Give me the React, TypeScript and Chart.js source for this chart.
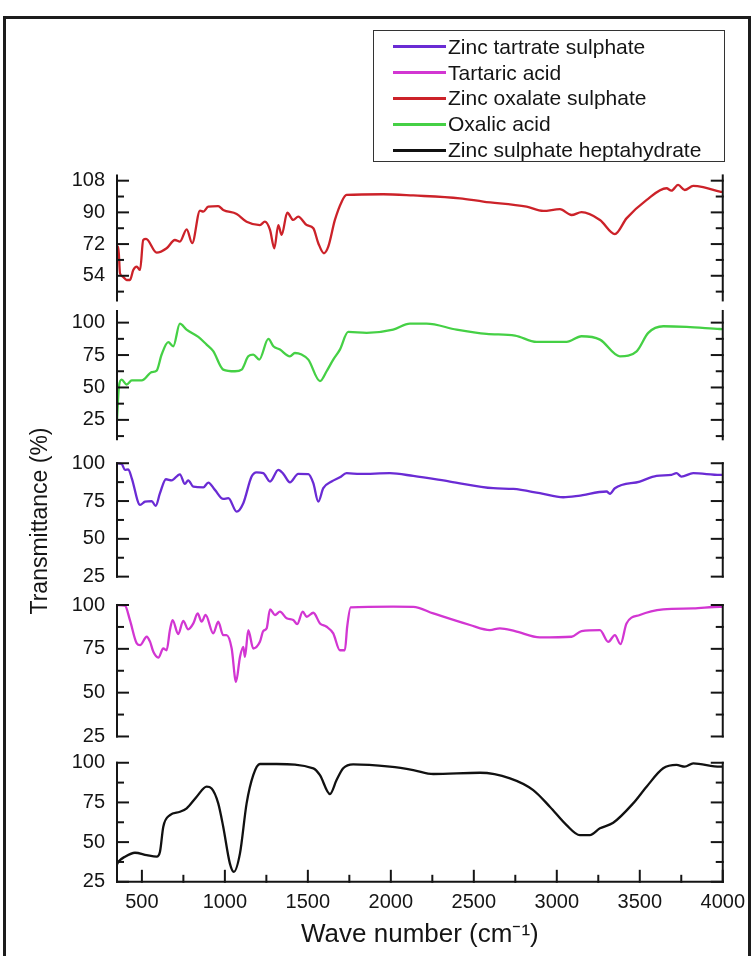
import React, { useEffect, useRef } from 'react';
import { Chart, registerables } from 'chart.js';

Chart.register(...registerables);

const FONT = "'Liberation Sans', Arial, Helvetica, sans-serif";

// ---------------- data (wave number in cm^-1, transmittance in %) ----------------
const zincOxalateWave = [350, 358, 368, 385, 408, 428, 448, 469, 489, 508, 525, 589, 649, 699, 729, 770, 803, 850, 870, 900, 960, 990, 1071, 1131, 1211, 1241, 1272, 1298, 1322, 1342, 1376, 1412, 1442, 1493, 1533, 1563, 1597, 1623, 1663, 1704, 1733, 1954, 2135, 2416, 2557, 2818, 2918, 3019, 3089, 3149, 3260, 3350, 3420, 3540, 3661, 3691, 3731, 3771, 3822, 3882, 3983, 4000];
const zincOxalateT = [69.6, 70.5, 55.4, 53.5, 51.6, 51.6, 57.3, 59.2, 57.3, 74.3, 74.9, 67.1, 69.6, 74.3, 73.4, 80.4, 72.5, 91, 90.4, 93.2, 93.6, 91.4, 89.1, 84.7, 82.8, 84.7, 80, 69.6, 82.8, 77.2, 89.8, 85.7, 87.6, 82.8, 81, 72.5, 66.8, 70.5, 85.7, 96.1, 99.9, 100.3, 99.6, 98, 96.1, 93.2, 90.8, 91.8, 88.5, 90.1, 85.7, 77.7, 86.6, 97, 103.7, 102.3, 105.6, 102.7, 105, 104.3, 101.8, 101.5];

const oxalicWave = [350, 355, 362, 378, 408, 439, 499, 559, 589, 619, 659, 689, 729, 769, 840, 890, 930, 990, 1061, 1101, 1141, 1171, 1207, 1262, 1292, 1332, 1392, 1422, 1462, 1503, 1573, 1613, 1653, 1693, 1743, 1854, 2014, 2115, 2215, 2396, 2577, 2748, 2878, 3059, 3149, 3260, 3380, 3481, 3551, 3642, 3782, 3983, 4000];
const oxalicT = [25, 38, 51, 56, 52.3, 55.4, 55.4, 61.8, 63, 75.4, 84.9, 81.8, 99.2, 94.6, 89, 83.1, 78, 63.8, 62.5, 63.8, 74, 75.4, 71.5, 87.4, 81.8, 79.2, 74, 76.6, 75.4, 71.5, 54.9, 62.5, 71.5, 79.2, 92.8, 92.1, 94.6, 99.2, 99.2, 94.6, 91.3, 90, 85.1, 85.1, 89.5, 86.9, 74, 77.9, 92.1, 97.2, 96.7, 95.1, 95];

const zincTartrateWave = [350, 378, 398, 418, 439, 489, 519, 559, 583, 609, 645, 679, 729, 759, 779, 810, 870, 900, 940, 990, 1021, 1071, 1111, 1161, 1191, 1231, 1272, 1322, 1352, 1392, 1442, 1503, 1533, 1563, 1593, 1643, 1693, 1733, 1814, 1994, 2135, 2356, 2617, 2738, 2898, 3039, 3129, 3300, 3320, 3350, 3500, 3601, 3691, 3721, 3751, 3822, 3983, 4000];
const zincTartrateT = [100, 99.5, 95.6, 96, 90, 72.4, 74.6, 75, 71.8, 80.2, 89.4, 88.7, 92.7, 86.3, 88.7, 84.5, 84, 87.2, 82.4, 76.4, 76.9, 68, 73.6, 91.2, 94, 93.5, 87.9, 95.6, 93, 87.4, 93, 92.8, 86.8, 74.6, 83.5, 87.9, 90.7, 93.4, 93, 93.4, 91.6, 87.9, 83.5, 83, 80.2, 77.5, 78.4, 81.3, 79.8, 83.5, 87.9, 91.6, 92.3, 93.4, 91.2, 93.4, 92.3, 92.3];

const tartaricWave = [350, 398, 428, 469, 489, 529, 549, 569, 599, 629, 649, 669, 685, 719, 749, 779, 810, 836, 860, 884, 930, 960, 990, 1010, 1041, 1067, 1091, 1111, 1121, 1141, 1171, 1211, 1231, 1252, 1272, 1302, 1332, 1372, 1412, 1436, 1469, 1493, 1533, 1573, 1613, 1653, 1693, 1723, 1737, 1758, 2014, 2135, 2256, 2477, 2597, 2657, 2748, 2898, 3089, 3149, 3260, 3310, 3350, 3384, 3420, 3500, 3641, 3822, 3983, 4000];
const tartaricT = [100, 99.6, 91.4, 78.1, 77.1, 81.9, 79.1, 73.3, 70, 75.2, 74.2, 85.7, 91.4, 83.4, 91, 86.1, 89.5, 95.2, 90.5, 94.3, 83.8, 90.5, 82.8, 82.8, 75.2, 56.1, 70.4, 76.1, 70.4, 85.7, 75.2, 79, 85.1, 86.8, 97.5, 94.3, 96.2, 92.4, 91.4, 89.1, 96.2, 93.3, 95.6, 89.5, 87.6, 83.8, 74.2, 74.2, 87.6, 98.7, 99.1, 99, 95.2, 88.6, 85.7, 86.7, 85.1, 81.5, 81.9, 85.1, 85.7, 79, 82.8, 77.7, 89.5, 94.3, 97.5, 98.1, 99, 99];

const zincSulphateWave = [350, 358, 398, 458, 529, 589, 609, 629, 669, 729, 770, 830, 890, 920, 960, 990, 1030, 1054, 1091, 1131, 1171, 1211, 1311, 1533, 1573, 1633, 1673, 1713, 1773, 1994, 2135, 2256, 2537, 2718, 2858, 2958, 3059, 3139, 3199, 3260, 3340, 3460, 3541, 3641, 3721, 3771, 3822, 3983, 4000];
const zincSulphateT = [36, 37.6, 40.8, 43.3, 41.8, 40.8, 43.9, 59.7, 67, 69.1, 71.3, 78.6, 84.9, 83.8, 74.4, 59.7, 36.6, 31.3, 42.9, 74.4, 92.2, 99.2, 99.2, 96.5, 92.2, 80.3, 89.1, 96.5, 99, 97.5, 95.4, 92.9, 93.7, 90.2, 82.8, 72.3, 60.7, 54.4, 54.4, 58.7, 62.2, 74.4, 84.9, 96.5, 98.6, 97.5, 99.6, 97.5, 97.5];

// ---------------- tick values ----------------
const xMajorTicks = [500, 1000, 1500, 2000, 2500, 3000, 3500, 4000];
const xMinorTicks = [750, 1250, 1750, 2250, 2750, 3250, 3750];
const oxalateMajorTicks = [54, 72, 90, 108];
const oxalateMinorTicks = [45, 63, 81, 99];
const oxalicMajorTicks = [25, 50, 75, 100];
const oxalicMinorTicks = [12.5, 37.5, 62.5, 87.5];
const percentMajorTicks = [25, 50, 75, 100];
const percentMinorTicks = [37.5, 62.5, 87.5];

// legend order as in the reference
const legendLabels = ['Zinc tartrate sulphate', 'Tartaric acid', 'Zinc oxalate sulphate', 'Oxalic acid', 'Zinc sulphate heptahydrate'];
const legendColors = ['#6a2bd4', '#d236d2', '#cc2229', '#45d045', '#111111'];

// panel layout (top to bottom)
const panels = [
  { id: 'yZincOxalate', label: 'Zinc oxalate sulphate', color: '#cc2229', wave: zincOxalateWave, values: zincOxalateT, min: 37.4, max: 111, lo: 40, hi: 111, stackWeight: 129.6, order: 5, major: oxalateMajorTicks, minor: oxalateMinorTicks },
  { id: 'yOxalic', label: 'Oxalic acid', color: '#45d045', wave: oxalicWave, values: oxalicT, min: 1, max: 113.6, lo: 10, hi: 109, stackWeight: 146, order: 4, major: oxalicMajorTicks, minor: oxalicMinorTicks },
  { id: 'yZincTartrate', label: 'Zinc tartrate sulphate', color: '#6a2bd4', wave: zincTartrateWave, values: zincTartrateT, min: 15.5, max: 108.1, lo: 25, hi: 100, stackWeight: 140, order: 3, major: percentMajorTicks, minor: percentMinorTicks, title: 'Transmittance (%)' },
  { id: 'yTartaric', label: 'Tartaric acid', color: '#d236d2', wave: tartaricWave, values: tartaricT, min: 17.8, max: 108, lo: 25, hi: 100, stackWeight: 158.1, order: 2, major: percentMajorTicks, minor: percentMinorTicks },
  { id: 'yZincSulphate', label: 'Zinc sulphate heptahydrate', color: '#111111', wave: zincSulphateWave, values: zincSulphateT, min: 25, max: 108.6, lo: 25, hi: 100, stackWeight: 132.7, order: 1, major: percentMajorTicks, minor: percentMinorTicks },
];

const MAJOR_LEN = 11;
const MINOR_LEN = 6;

const panelAxesPlugin = {
  id: 'panelAxes',
  afterDraw(chart: any) {
    const { ctx, chartArea } = chart;
    const { left, right, bottom } = chartArea;
    const seg = (x1: number, y1: number, x2: number, y2: number) => {
      ctx.beginPath();
      ctx.moveTo(x1, y1);
      ctx.lineTo(x2, y2);
      ctx.stroke();
    };
    ctx.save();
    ctx.strokeStyle = '#151515';
    ctx.lineWidth = 2;
    ctx.lineCap = 'square';
    panels.forEach((p) => {
      const s = chart.scales[p.id];
      const yTop = s.getPixelForValue(p.hi);
      const yBot = s.getPixelForValue(p.lo);
      seg(left, yTop, left, yBot);
      seg(right, yTop, right, yBot);
      p.major.forEach((v: number) => {
        const y = s.getPixelForValue(v);
        seg(left, y, left + MAJOR_LEN, y);
        seg(right - MAJOR_LEN, y, right, y);
      });
      p.minor.forEach((v: number) => {
        const y = s.getPixelForValue(v);
        seg(left, y, left + MINOR_LEN, y);
        seg(right - MINOR_LEN, y, right, y);
      });
    });
    const xs = chart.scales.x;
    seg(left, bottom, right, bottom);
    xMajorTicks.forEach((v) => {
      const x = xs.getPixelForValue(v);
      seg(x, bottom, x, bottom - MAJOR_LEN);
    });
    xMinorTicks.forEach((v) => {
      const x = xs.getPixelForValue(v);
      seg(x, bottom, x, bottom - MINOR_LEN);
    });
    ctx.restore();
  },
};

export default function App() {
  const canvasRef = useRef<HTMLCanvasElement | null>(null);

  useEffect(() => {
    if (!canvasRef.current) return;

    const datasets = panels.map((p) => ({
      label: p.label,
      data: p.wave.map((w, i) => ({ x: w, y: p.values[i] })),
      yAxisID: p.id,
      borderColor: p.color,
      backgroundColor: p.color,
      borderWidth: 2.3,
      pointRadius: 0,
      cubicInterpolationMode: 'monotone',
      borderJoinStyle: 'round',
      fill: false,
    }));

    const scales: any = {
      x: {
        type: 'linear',
        position: 'bottom',
        min: 350,
        max: 4000,
        grid: { display: false, drawTicks: false },
        border: { display: false },
        afterBuildTicks: (s: any) => {
          s.ticks = xMajorTicks.map((v) => ({ value: v }));
        },
        afterFit: (s: any) => {
          s.height = 74.2;
        },
        ticks: {
          autoSkip: false,
          maxRotation: 0,
          padding: 9,
          color: '#151515',
          font: { family: FONT, size: 20 },
          callback: (v: any) => String(v),
        },
        title: {
          display: true,
          text: 'Wave number (cm\u207B\u00B9)',
          color: '#151515',
          font: { family: FONT, size: 26 },
          padding: { top: 0, bottom: 6 },
        },
      },
    };

    panels.forEach((p) => {
      scales[p.id] = {
        type: 'linear',
        position: 'left',
        stack: 'panels',
        stackWeight: p.stackWeight,
        weight: p.order,
        min: p.min,
        max: p.max,
        grid: { display: false, drawTicks: false },
        border: { display: false },
        afterBuildTicks: (s: any) => {
          s.ticks = p.major.map((v: number) => ({ value: v }));
        },
        afterFit: (s: any) => {
          s.width = 117;
        },
        ticks: {
          autoSkip: false,
          padding: 12,
          color: '#151515',
          font: { family: FONT, size: 20 },
          callback: (v: any) => String(v),
        },
        title: p.title
          ? {
              display: true,
              text: p.title,
              color: '#151515',
              font: { family: FONT, size: 23 },
              padding: { top: 27, bottom: 0 },
            }
          : { display: false },
      };
    });

    const chart = new Chart(canvasRef.current, {
      type: 'line',
      data: { datasets },
      options: {
        responsive: false,
        animation: false,
        parsing: true,
        layout: { padding: { top: 175.4, left: 0, right: 31, bottom: 0 } },
        plugins: { legend: { display: false }, tooltip: { enabled: false } },
        scales,
      },
      plugins: [panelAxesPlugin],
    } as any);

    return () => chart.destroy();
  }, []);

  return (
    <div style={{ position: 'absolute', left: 0, top: 0, width: 754, height: 956, overflow: 'hidden', background: '#fff' }}>
      <div
        style={{
          position: 'absolute',
          left: 3,
          top: 16,
          width: 748,
          height: 960,
          border: '3px solid #1c1c1c',
          boxSizing: 'border-box',
        }}
      />
      <canvas ref={canvasRef} width={754} height={956} style={{ position: 'absolute', left: 0, top: 0 }} />
      <div
        style={{
          position: 'absolute',
          left: 373,
          top: 30,
          width: 352,
          height: 132,
          border: '1px solid #333',
          boxSizing: 'border-box',
          background: '#fff',
          fontFamily: FONT,
          fontSize: 21,
          color: '#151515',
        }}
      >
        {legendLabels.map((label, i) => (
          <div
            key={label}
            style={{
              position: 'absolute',
              left: 19,
              top: 3 + i * 25.8,
              height: 25.8,
              display: 'flex',
              alignItems: 'center',
              whiteSpace: 'nowrap',
            }}
          >
            <span style={{ display: 'inline-block', width: 53, height: 3, background: legendColors[i], marginRight: 2 }} />
            <span>{label}</span>
          </div>
        ))}
      </div>
    </div>
  );
}
